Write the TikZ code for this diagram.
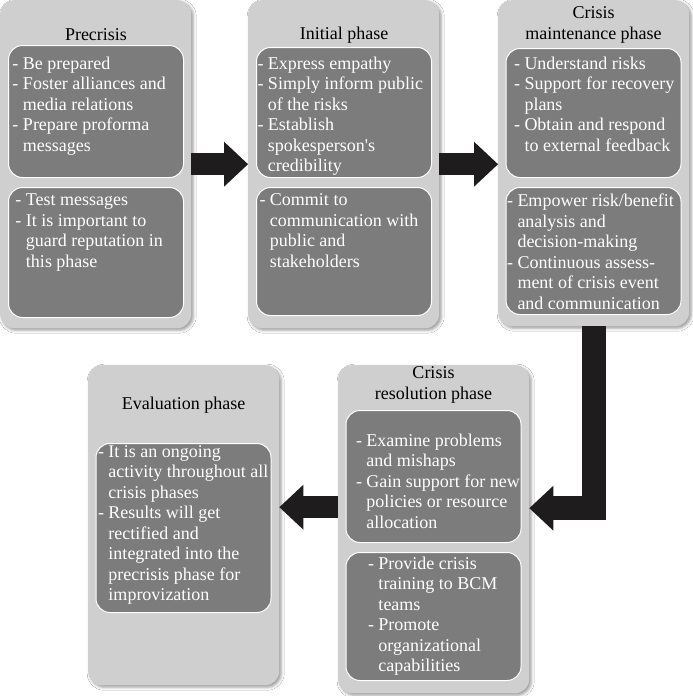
\documentclass[tikz,border=0pt]{standalone}
\usepackage{fontspec}
\setmainfont{Liberation Serif}
\usepackage{tikz}
\usetikzlibrary{arrows.meta,positioning,shadows.blur}
\definecolor{panelx}{HTML}{CFCFCF}
\definecolor{boxx}{HTML}{7C7C7C}
\definecolor{arrowx}{HTML}{1E1C1D}
\newcommand{\txtfont}{\fontsize{18}{20.5}\selectfont}
\newcommand{\itm}[1]{\par\setbox0=\hbox{-\ }\hangindent=\wd0\hangafter=1\noindent\box0 #1}
\newcommand{\btext}[4]{\parbox[c][#1][t]{175pt}{\leftskip=#3\rightskip=0pt plus 1fil\relax\vspace*{#2}#4}}
\tikzset{
  panel/.style={fill=panelx,rounded corners=14pt,minimum width=191pt,minimum height=328pt,anchor=north west,
    blur shadow={shadow xshift=2pt,shadow yshift=-2pt,shadow blur radius=3pt,shadow opacity=40}},
  inbox/.style={draw=white,line width=1pt,fill=boxx,rounded corners=14pt,inner sep=0pt,anchor=north,text=white,font=\txtfont},
  ttl/.style={align=center,font=\txtfont},
  bigar/.style={draw=arrowx,line width=22pt,-{Triangle[length=24pt,width=45pt,line width=0pt]}}
}

\begin{document}
\begin{tikzpicture}[x=1pt,y=-1pt]
\fill[white] (0,0) rectangle (693,696);
\path[use as bounding box] (0,0) rectangle (693,696);
% phase panels
\node[panel] (pre) at (0,0) {};
\node[panel] (ini) at (248,0) {};
\node[panel,minimum height=326pt] (mnt) at (498,0) {};
\node[panel,minimum height=320pt] (evl) at (88,365) {};
\node[panel] (res) at (338,365) {};
% titles
\node[ttl] (pre-t) at (96,35) {Precrisis};
\node[ttl] (ini-t) at (344,35) {Initial phase};
\node[ttl] (mnt-t) at (593.5,25) {Crisis\\maintenance phase};
\node[ttl] (evl-t) at (183.5,405) {Evaluation phase};
\node[ttl] (res-t) at (433.5,385) {Crisis\\resolution phase};
% inner boxes
\node[inbox] (pre-a) at (96,45) {\btext{132pt}{11.5pt}{4pt}{\itm{Be prepared}\itm{Foster alliances and\\media relations}\itm{Prepare proforma\\messages}}};
\node[inbox] (pre-b) at (96,187) {\btext{130pt}{6.5pt}{7pt}{\itm{Test messages}\itm{It is important to\\guard reputation in\\this phase}}};
\node[inbox] (ini-a) at (344,47) {\btext{130pt}{9.5pt}{1pt}{\itm{Express empathy}\itm{Simply inform public\\of the risks}\itm{Establish\\spokesperson\textquotesingle s\\credibility}}};
\node[inbox] (ini-b) at (344,187) {\btext{128pt}{6.5pt}{3pt}{\itm{Commit to\\communication with\\public and\\stakeholders}}};
\node[inbox] (mnt-a) at (593.5,48) {\btext{129pt}{8.5pt}{8pt}{\itm{Understand risks}\itm{Support for recovery\\plans}\itm{Obtain and respond\\to external feedback}}};
\node[inbox] (mnt-b) at (593.5,187) {\btext{127pt}{6.5pt}{1pt}{\itm{Empower risk/benefit\\analysis and\\decision-making}\itm{Continuous assess-\\ment of crisis event\\and communication}}};
\node[inbox] (evl-a) at (183.5,443) {\btext{169pt}{2pt}{2pt}{\itm{It is an ongoing\\activity throughout all\\crisis phases}\itm{Results will get\\rectified and\\integrated into the\\precrisis phase for\\improvization}}};
\node[inbox] (res-a) at (433.5,410) {\btext{132pt}{23.5pt}{10pt}{\itm{Examine problems\\and mishaps}\itm{Gain support for new\\policies or resource\\allocation}}};
\node[inbox] (res-b) at (433.5,552) {\btext{128pt}{4.5pt}{22pt}{\itm{Provide crisis\\training to BCM\\teams}\itm{Promote\\organizational\\capabilities}}};
% flow arrows
\coordinate (r3) at ([yshift=21pt]res.east);
\coordinate (r4) at ([yshift=22pt]res.west);
\draw[bigar] (pre.east) -- (ini.west);
\draw[bigar] (ini.east) -- (ini.east -| mnt.west);
\draw[bigar,line width=24pt,line join=miter] (mnt.south) |- (r3);
\draw[bigar] (r4) -- (r4 -| evl.east);
\end{tikzpicture}
\end{document}
